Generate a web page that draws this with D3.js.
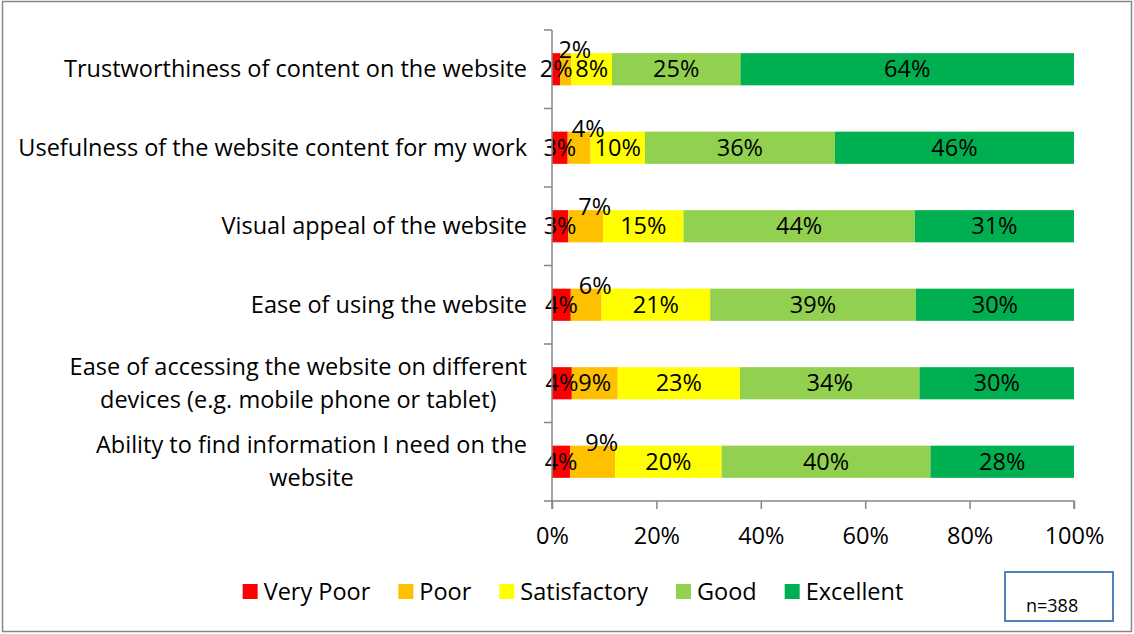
<!DOCTYPE html>
<html lang="en">
<head>
<meta charset="UTF-8">
<script src="https://cdn.jsdelivr.net/npm/d3@7"></script>
<style>
    body { margin: 0; background: #fff; }
    text { font-family: "Open Sans", "Liberation Sans", sans-serif; fill: #000; }
</style>
</head>
<body>
<script>
    // categories (multi-line labels split into lines)
    var categories = [
        ["Trustworthiness of content on the website"],
        ["Usefulness of the website content for my work"],
        ["Visual appeal of the website"],
        ["Ease of using the website"],
        ["Ease of accessing the website on different", "devices (e.g. mobile phone or tablet)"],
        ["Ability to find information I need on the", "website"]
    ];
    var seriesNames = ["Very Poor", "Poor", "Satisfactory", "Good", "Excellent"];
    var colors = ["#FF0000", "#FFC000", "#FFFF00", "#92D050", "#00B050"];

    // percentages per series, one per category
    var veryPoor     = [1.6, 3.0, 3.1, 3.6, 3.8, 3.5];
    var poor         = [2.1, 4.4, 6.7, 5.9, 8.8, 8.6];
    var satisfactory = [7.8, 10.4, 15.4, 20.8, 23.4, 20.4];
    var good         = [24.6, 36.4, 44.3, 39.4, 34.4, 40.0];
    var excellent    = [63.9, 45.8, 30.5, 30.3, 29.6, 27.5];

    // "Poor" labels that were dragged above the bar in the original
    var poorLifted = [true, true, true, true, false, true];

    var xTicks = [0, 20, 40, 60, 80, 100];
    var sampleNote = "n=388";

    var W = 1134, H = 634;
    var fs = "23.5px";
    var svg = d3.select("body").append("svg")
        .attr("width", W)
        .attr("height", H);

    // outer chart border
    svg.append("rect")
        .attr("x", 2.5).attr("y", 1.5)
        .attr("width", 1129).attr("height", 630)
        .attr("fill", "#fff")
        .attr("stroke", "#868686")
        .attr("stroke-width", 1.5);

    var table = categories.map(function(c, i) {
        return {
            idx: i,
            "Very Poor": veryPoor[i],
            "Poor": poor[i],
            "Satisfactory": satisfactory[i],
            "Good": good[i],
            "Excellent": excellent[i]
        };
    });

    var x = d3.scaleLinear().domain([0, 100]).range([552, 1074]);
    var y = d3.scaleBand()
        .domain(d3.range(categories.length))
        .range([30, 501])
        .paddingInner(0.59)
        .paddingOuter(0.295);

    var stack = d3.stack().keys(seriesNames);
    var layers = stack(table);

    var g = svg.append("g");

    layers.forEach(function(layer, si) {
        g.append("g").selectAll("rect")
            .data(layer)
            .enter().append("rect")
            .attr("x", function(d) { return x(d[0]); })
            .attr("y", function(d) { return y(d.data.idx); })
            .attr("width", function(d) { return x(d[1]) - x(d[0]); })
            .attr("height", y.bandwidth())
            .attr("fill", colors[si]);
    });

    // axes
    var xAxis = d3.axisBottom(x)
        .tickValues(xTicks)
        .tickSize(8)
        .tickFormat(function(d) { return d + "%"; });
    var xg = svg.append("g")
        .attr("transform", "translate(0,501)")
        .call(xAxis);
    xg.select(".domain").attr("stroke", "#868686").attr("stroke-width", 1.5)
        .attr("d", "M552,8V0H1074V8");
    xg.selectAll(".tick line").attr("stroke", "#868686").attr("stroke-width", 1.5);
    xg.selectAll(".tick text")
        .attr("y", 35)
        .attr("dy", "0.35em")
        .style("font-size", fs)
        .style("font-family", "'Open Sans', sans-serif")
        .attr("fill", "#000");

    // y axis line + band separators
    var yg = svg.append("g");
    yg.append("line")
        .attr("x1", 552).attr("x2", 552)
        .attr("y1", 30).attr("y2", 501)
        .attr("stroke", "#868686").attr("stroke-width", 1.5);
    var bounds = d3.range(categories.length + 1).map(function(i) {
        return 30 + (471 / categories.length) * i;
    });
    yg.selectAll("line.sep")
        .data(bounds)
        .enter().append("line")
        .attr("class", "sep")
        .attr("x1", 544).attr("x2", 552)
        .attr("y1", function(d) { return d; })
        .attr("y2", function(d) { return d; })
        .attr("stroke", "#868686").attr("stroke-width", 1.5);

    // category labels: block right-aligned, lines centered within block
    var lineH = 33;
    categories.forEach(function(lines, i) {
        var cy = y(i) + y.bandwidth() / 2;
        var t = svg.append("g");
        var texts = lines.map(function(l, k) {
            return t.append("text")
                .attr("y", cy + (k - (lines.length - 1) / 2) * lineH)
                .attr("dy", "0.35em")
                .attr("text-anchor", "middle")
                .style("font-size", fs)
                .text(l);
        });
        var maxW = d3.max(texts, function(tx) { return tx.node().getComputedTextLength(); });
        var center = 527 - maxW / 2;
        texts.forEach(function(tx) { tx.attr("x", center); });
    });

    // data labels
    layers.forEach(function(layer, si) {
        g.append("g").selectAll("text")
            .data(layer)
            .enter().append("text")
            .attr("x", function(d, i) {
                var cx = (x(d[0]) + x(d[1])) / 2;
                if (si === 1 && poorLifted[i]) cx += 9;
                return cx;
            })
            .attr("y", function(d, i) {
                var cy = y(d.data.idx) + y.bandwidth() / 2;
                if (si === 1 && poorLifted[i]) cy -= 19;
                return cy;
            })
            .attr("dy", "0.35em")
            .attr("text-anchor", "middle")
            .style("font-size", fs)
            .text(function(d) { return Math.round(d[1] - d[0]) + "%"; });
    });

    // legend
    var legend = svg.append("g");
    var lx = 0;
    seriesNames.forEach(function(name, i) {
        var item = legend.append("g").attr("transform", "translate(" + lx + ",0)");
        item.append("rect")
            .attr("x", 0).attr("y", -8)
            .attr("width", 15).attr("height", 15)
            .attr("fill", colors[i]);
        var tx = item.append("text")
            .attr("x", 21).attr("y", 0)
            .attr("dy", "0.35em")
            .style("font-size", fs)
            .text(name);
        lx += 21 + tx.node().getComputedTextLength() + 28;
    });
    var legW = lx - 28;
    legend.attr("transform", "translate(" + (573 - legW / 2) + ",592)");

    // sample size box
    svg.append("rect")
        .attr("x", 1005).attr("y", 572)
        .attr("width", 108).attr("height", 49)
        .attr("fill", "#fff")
        .attr("stroke", "#4F81BD")
        .attr("stroke-width", 2);
    svg.append("text")
        .attr("x", 1026).attr("y", 606)
        .attr("dy", "0.35em")
        .style("font-size", "18px")
        .text(sampleNote);
</script>
</body>
</html>
